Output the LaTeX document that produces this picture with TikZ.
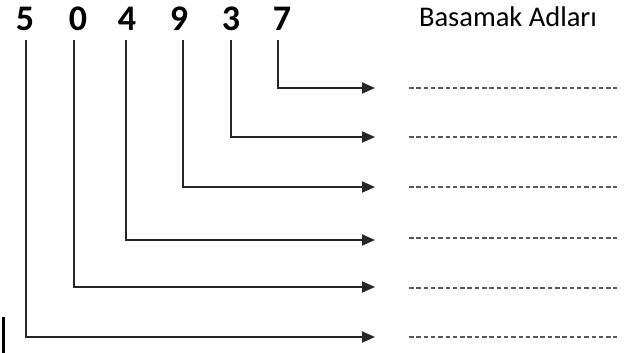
\documentclass[tikz,border=0pt]{standalone}
\usepackage{fontspec}
\setmainfont{Carlito}
\usetikzlibrary{arrows.meta}
\begin{document}
\begin{tikzpicture}[x=1pt,y=-1pt,
  digit/.style={font=\fontsize{36}{40}\selectfont\bfseries, inner sep=0pt, anchor=base},
  head/.style={font=\fontsize{28.5}{32}\selectfont, inner sep=0pt, anchor=base},
  conn/.style={draw=black!85, line width=1.8pt, -{Triangle[length=13pt,width=11pt]}, shorten <=9pt},
  blank/.style={draw=black!65, line width=1.5pt, dash pattern=on 4.5pt off 2.8pt}]
\useasboundingbox (0,0) rectangle (634,353);
% digits
\node[digit] (d5) at (25,31) {5};
\node[digit] (d0) at (78,31) {0};
\node[digit] (d4) at (127,31) {4};
\node[digit] (d9) at (179,31) {9};
\node[digit] (d3) at (231,31) {3};
\node[digit] (d7) at (282,31) {7};
\node[head] (title) at (508,27) {Basamak Adları};
% arrow ends
\coordinate (e7) at (375,88);
\coordinate (e3) at (375,137);
\coordinate (e9) at (375,187);
\coordinate (e4) at (375,240);
\coordinate (e0) at (375,287);
\coordinate (e5) at (375,337);
% connectors
\draw[conn] ([xshift=-4pt]d7.south) |- (e7);
\draw[conn] (d3.south) |- (e3);
\draw[conn] ([xshift=4pt]d9.south) |- (e9);
\draw[conn] ([xshift=-1pt]d4.south) |- (e4);
\draw[conn] ([xshift=-4pt]d0.south) |- (e0);
\draw[conn] ([xshift=1pt]d5.south) |- (e5);
% answer blanks
\foreach \y in {88,137,187,238,288,337}{
  \draw[blank] (409,\y) -- (617,\y);
}
% stray bar
\draw[line width=3pt] (3,317) -- (3,353);
\end{tikzpicture}
\end{document}
